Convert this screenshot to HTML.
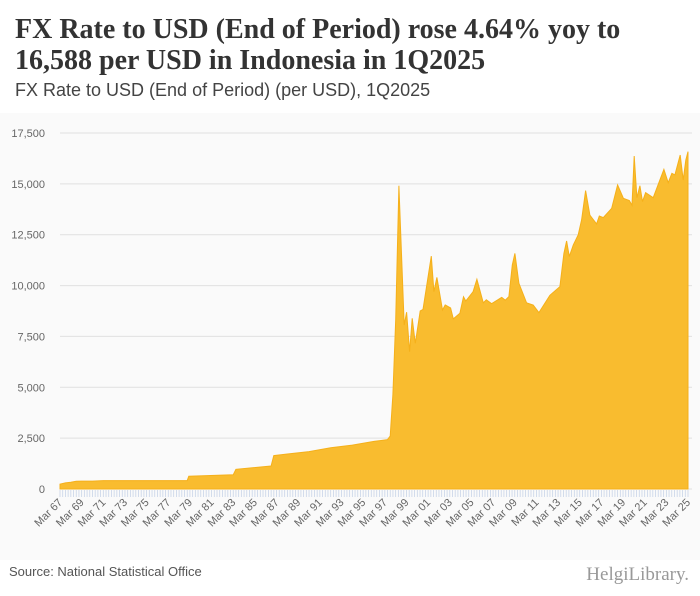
<!DOCTYPE html>
<html><head><meta charset="utf-8"><style>
body{margin:0;width:700px;height:596px;background:#fff;overflow:hidden;font-family:"Liberation Sans",sans-serif}
#title{position:absolute;left:15px;top:14px;font:bold 28px/31px "Liberation Serif",serif;color:#333;margin:0;width:620px}
#sub{position:absolute;left:15px;top:80px;font-size:18px;color:#444}
svg{position:absolute;left:0;top:0}
</style></head><body>
<h1 id="title">FX Rate to USD (End of Period) rose 4.64% yoy to 16,588 per USD in Indonesia in 1Q2025</h1>
<div id="sub">FX Rate to USD (End of Period) (per USD), 1Q2025</div>
<svg id="c" width="700" height="596"></svg>
<script>
const periods=[1967.0,1967.5,1968.0,1968.5,1969.0,1970.0,1970.5,1971.0,1971.5,1978.75,1978.9,1983.0,1983.25,1986.5,1986.75,1988,1990,1992,1994,1996,1997.25,1997.5,1997.75,1998.0,1998.3,1998.79,1999.01,1999.29,1999.53,1999.81,2000.27,2000.53,2001.29,2001.53,2001.81,2002.33,2002.58,2003.07,2003.32,2003.93,2004.27,2004.48,2005.15,2005.5,2006.09,2006.37,2006.86,2007.79,2008.12,2008.46,2008.77,2009.01,2009.38,2010.09,2010.7,2011.23,2012.25,2013.17,2013.54,2013.79,2014.04,2014.41,2014.86,2015.17,2015.54,2015.94,2016.56,2016.81,2017.18,2017.95,2018.5,2019.03,2019.58,2019.83,2020.03,2020.28,2020.56,2020.8,2021.08,2021.79,2022.77,2023.17,2023.51,2023.79,2024.28,2024.56,2024.8,2025.0];
const values=[240,300,330,380,390,390,400,415,415,415,625,700,970,1130,1640,1720,1840,2030,2160,2340,2430,2600,4650,8325,14910,8060,8690,6750,8390,7160,8750,8830,11450,9700,10400,8800,9050,8900,8360,8640,9450,9240,9700,10310,9150,9300,9110,9420,9280,9460,11010,11580,10110,9150,9040,8670,9520,9950,11580,12190,11430,12000,12490,13230,14670,13460,13030,13420,13340,13800,14950,14290,14180,13950,16370,14320,14910,14130,14570,14320,15710,15060,15520,15440,16420,15190,16170,16588];
const yTicks=[0,2500,5000,7500,10000,12500,15000,17500];
const xTickYears=[1967,1969,1971,1973,1975,1977,1979,1981,1983,1985,1987,1989,1991,1993,1995,1997,1999,2001,2003,2005,2007,2009,2011,2013,2015,2017,2019,2021,2023,2025];
const NS='http://www.w3.org/2000/svg',svg=document.getElementById('c');
const X0=60,X1=688,Y0=489,Y1=133;
const xs=y=>X0+(y-1967)/(2025-1967)*(X1-X0);
const ys=v=>Y0-v/17500*(Y0-Y1);
function mk(t,a,p){const e=document.createElementNS(NS,t);for(const k in a)e.setAttribute(k,a[k]);(p||svg).appendChild(e);return e;}
const bg=mk('rect',{x:0,y:113,width:700,height:447,fill:'#fafafa'});


yTicks.forEach(v=>{
 const g=mk('line',{x1:X0,x2:X1+4,y1:ys(v),y2:ys(v),stroke:'#e0e0e0'});
 
 
 const t=mk('text',{x:45,y:ys(v)+4,'text-anchor':'end','font-size':11,fill:'#666'});
 t.textContent=v.toLocaleString('en-US');
 
 
});
let d='M'+xs(periods[0])+','+ys(0);
periods.forEach((p,i)=>{d+=' L'+xs(p).toFixed(1)+','+ys(values[i]).toFixed(1);});
d+=' L'+xs(periods[periods.length-1])+','+ys(0)+' Z';
const area=mk('path',{d:d,fill:'#f9bc2f',stroke:'#f5b01a','stroke-width':1});


for(let q=0;q<=232;q++){
 const x=xs(1967+q/4);
 const tk=mk('line',{x1:x,x2:x,y1:Y0+1,y2:Y0+8,stroke:'#c8d4e8','stroke-width':0.8});
 
 
}
xTickYears.forEach(y=>{
 const x=xs(y),t=mk('text',{x:x+3,y:Y0+14,'text-anchor':'end','font-size':11,fill:'#666',transform:`rotate(-45 ${x+3} ${Y0+14})`});
 t.textContent='Mar '+String(y%100).padStart(2,'0');
 
 
});
const s=mk('text',{x:9,y:576,'font-size':13,fill:'#555'});
s.textContent='Source: National Statistical Office';


const l=mk('text',{x:689,y:580,'text-anchor':'end','font-size':19,fill:'#999','font-family':'Liberation Serif,serif'});
l.textContent='HelgiLibrary.';


</script>
</body></html>
